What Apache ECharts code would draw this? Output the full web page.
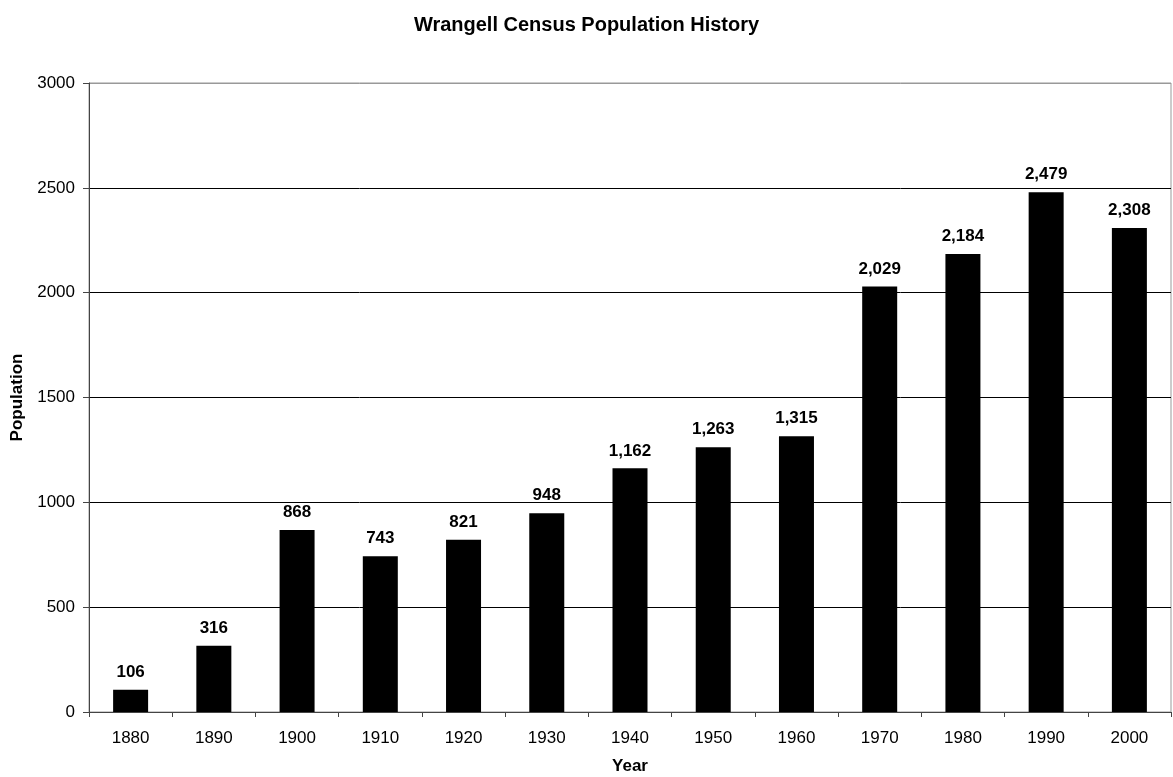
<!DOCTYPE html>
<html><head><meta charset="utf-8">
<script src="https://cdn.jsdelivr.net/npm/echarts@6/dist/echarts.min.js"></script>
<style>html,body{margin:0;padding:0;background:#fff}#c{width:1173px;height:777px}</style>
</head><body><div id="c"></div>
<script>
const years = ['1880','1890','1900','1910','1920','1930','1940','1950','1960','1970','1980','1990','2000'];
const population = [106,316,868,743,821,948,1162,1263,1315,2029,2184,2479,2308];
const yTicks = [0,500,1000,1500,2000,2500,3000];

const chart = echarts.init(document.getElementById('c'), null, {renderer:'canvas'});
const font = 'Liberation Sans, Arial, sans-serif';
chart.setOption({
  animation:false,
  backgroundColor:'#fff',
  title:{text:'Wrangell Census Population History',left:'center',top:10,
    textStyle:{fontFamily:font,fontSize:20,fontWeight:'bold',color:'#000'}},
  grid:{left:89,right:2,top:83,bottom:65,show:true,borderColor:'#999',borderWidth:1,
    backgroundColor:'transparent',containLabel:false,outerBoundsMode:'none'},
  xAxis:{type:'category',data:years,
    name:'Year',nameLocation:'middle',nameGap:46,
    nameTextStyle:{fontFamily:font,fontSize:17,fontWeight:'bold',color:'#000'},
    axisLine:{lineStyle:{color:'#444',width:1}},
    axisTick:{show:true,alignWithLabel:false,length:5,lineStyle:{color:'#444'}},
    axisLabel:{fontFamily:font,fontSize:17,color:'#000',margin:18}},
  yAxis:{type:'value',min:yTicks[0],max:yTicks[yTicks.length-1],interval:500,
    name:'Population',nameLocation:'middle',nameGap:63,nameRotate:90,
    nameTextStyle:{fontFamily:font,fontSize:17,fontWeight:'bold',color:'#000'},
    axisLine:{show:true,lineStyle:{color:'#444',width:1}},
    axisTick:{show:true,length:6,lineStyle:{color:'#444'}},
    axisLabel:{fontFamily:font,fontSize:17,color:'#000',margin:14,formatter:v=>String(v)},
    splitLine:{show:true,lineStyle:{color:['#000','#000','#000','#000','#000','#000','#999'],width:1}}},
  series:[{type:'bar',data:population,barWidth:35,
    itemStyle:{color:'#000'},
    label:{show:true,position:'top',distance:9,fontFamily:font,fontSize:17,fontWeight:'bold',color:'#000',
      formatter:p=>p.value.toLocaleString('en-US')}}]
});
</script></body></html>
